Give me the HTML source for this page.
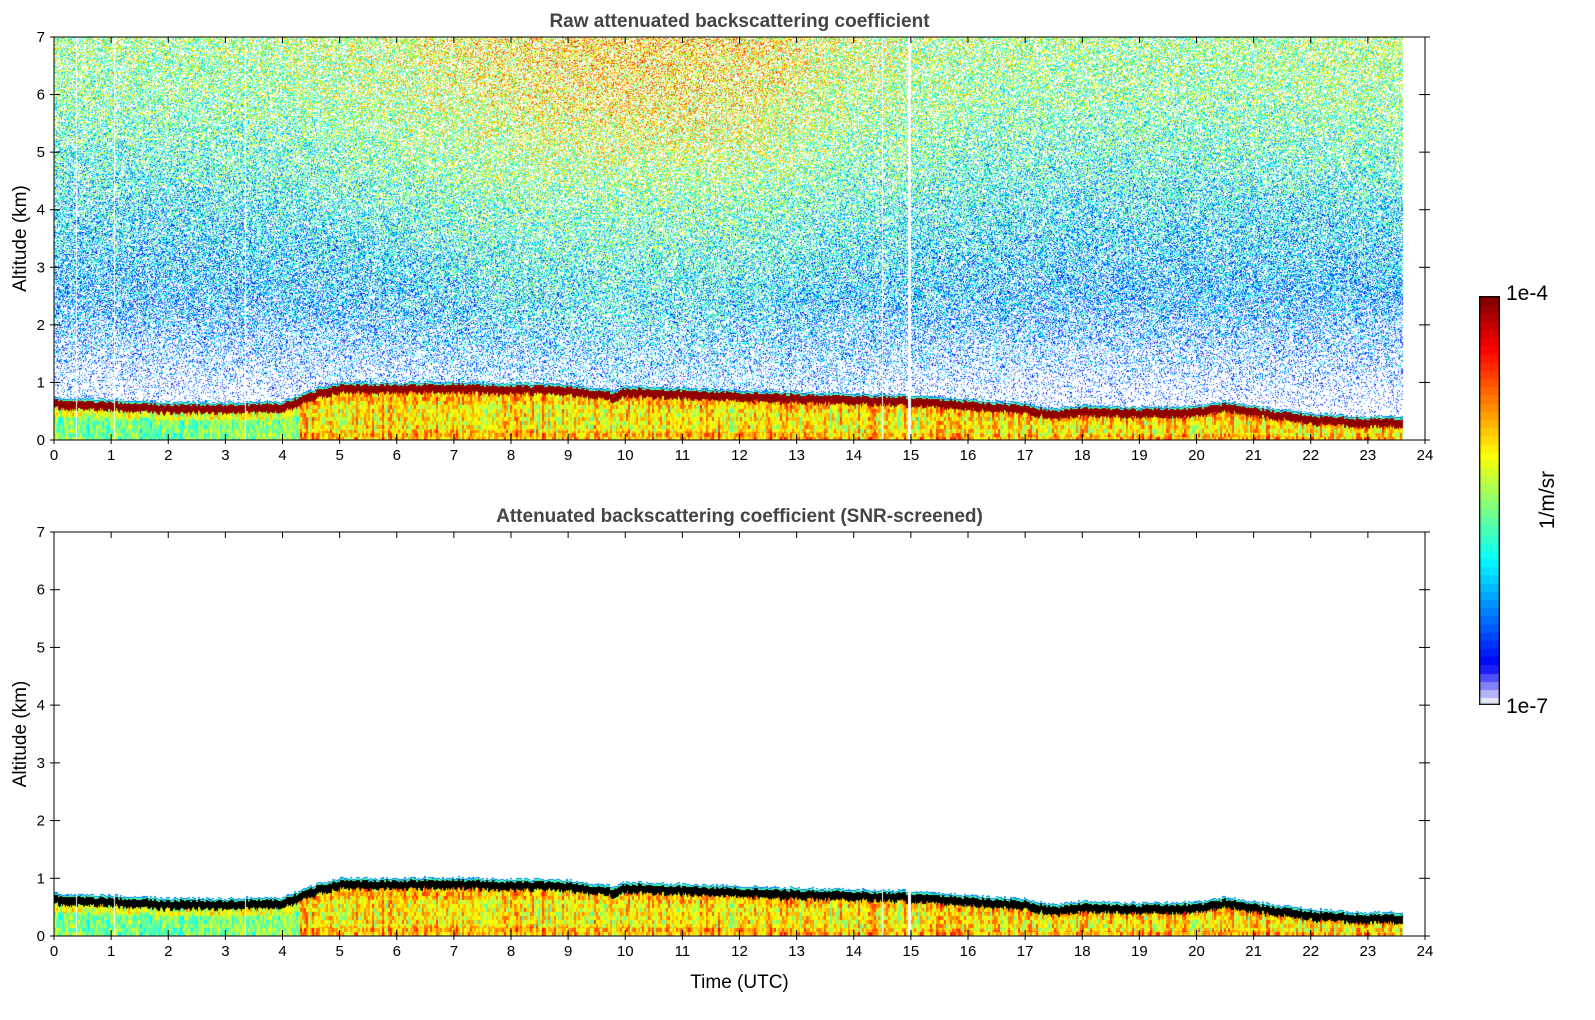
<!DOCTYPE html>
<html><head><meta charset="utf-8"><style>
body{margin:0;background:#fff;width:1595px;height:1020px;overflow:hidden;position:relative;font-family:"Liberation Sans","DejaVu Sans",sans-serif}
canvas{position:absolute}
svg{position:absolute;left:0;top:0}
</style></head><body>
<canvas id="c1" width="1371" height="403" style="left:54px;top:37px"></canvas>
<canvas id="c2" width="1371" height="404" style="left:54px;top:532px"></canvas>
<canvas id="cb" width="21" height="409" style="left:1479px;top:296px"></canvas>
<svg id="ax" width="1595" height="1020"></svg>
<script>
// ---- data ----
const blHours = [0,1,2,3,4,4.5,5,6,7,8,9,9.6,9.8,10,11,12,13,14,15,16,17,17.5,18,19,20,20.5,21,22,23,23.6];
const blTop   = [0.68,0.65,0.6,0.6,0.62,0.82,0.95,0.95,0.96,0.93,0.92,0.84,0.8,0.89,0.85,0.81,0.78,0.75,0.73,0.65,0.59,0.49,0.55,0.52,0.54,0.62,0.54,0.41,0.35,0.36];
const gridHours = [0,2,4,6,8,10,12,14,16,18,20,22,24];
const gridAlt = [1,2,3,4,5,6,7];
const logBeta = [
 [-6.6,-6.6,-6.6,-6.5,-6.4,-6.3,-6.35,-6.5,-6.6,-6.6,-6.6,-6.6,-6.6],
 [-6.35,-6.35,-6.35,-6.25,-6.1,-6.0,-6.1,-6.25,-6.3,-6.35,-6.35,-6.35,-6.35],
 [-6.15,-6.15,-6.15,-6.05,-5.9,-5.85,-5.9,-6.05,-6.1,-6.15,-6.15,-6.15,-6.1],
 [-6.0,-6.0,-5.95,-5.85,-5.7,-5.65,-5.7,-5.85,-5.95,-6.0,-6.0,-6.0,-5.95],
 [-5.8,-5.8,-5.75,-5.6,-5.4,-5.3,-5.35,-5.6,-5.75,-5.8,-5.8,-5.75,-5.7],
 [-5.6,-5.6,-5.55,-5.4,-5.2,-5.1,-5.15,-5.4,-5.55,-5.6,-5.6,-5.55,-5.5],
 [-5.5,-5.5,-5.45,-5.3,-5.1,-5.0,-5.05,-5.3,-5.45,-5.5,-5.5,-5.45,-5.45]];
const gapHours = [0.38,1.05,3.35,14.5,14.95];
const gapWidth = [1,1,1,1,3];
const dataEnd = 23.6;
const xTicks = [...Array(25).keys()];
const yTicks = [0,1,2,3,4,5,6,7];
// ---- helpers ----
const W=1371;
function interp(xs,ys,x){if(x<=xs[0])return ys[0];for(let i=1;i<xs.length;i++){if(x<=xs[i]){const t=(x-xs[i-1])/(xs[i]-xs[i-1]);return ys[i-1]+t*(ys[i]-ys[i-1]);}}return ys[ys.length-1];}
function cl(v){return Math.max(0,Math.min(1,v));}
function jet(v){
 let t=(v+7)/3; if(t<0.0)return null;
 t=Math.min(1,t);
 if(t<0.1){const k=[[230,230,250],[180,180,250],[130,130,250],[80,80,250],[30,30,250]][Math.floor(t/0.02)];return k;}
 const u=0.125+(t-0.1)/0.9*0.875;
 return [cl(1.5-Math.abs(4*u-3))*255,cl(1.5-Math.abs(4*u-2))*255,cl(1.5-Math.abs(4*u-1))*255];
}
function hash(a,b){let h=(a*374761393+b*668265263)|0;h=(h^(h>>>13))*1274126177|0;return ((h^(h>>>16))>>>0)/4294967296;}
function upper(h,alt){
 if(alt<1){const v=interp(gridHours,logBeta[0],h);return v-(1-alt)*0.5;}
 const col=gridAlt.map((a,i)=>interp(gridHours,logBeta[i],h));
 return interp(gridAlt,col,alt);
}
function isGap(x){for(let i=0;i<gapHours.length;i++){const gx=Math.round(gapHours[i]/24*W);if(x>=gx&&x<gx+gapWidth[i])return true;}return false;}
function draw(id,raw){
 const c=document.getElementById(id),ctx=c.getContext('2d'),H=c.height;
 const img=ctx.createImageData(W,H),d=img.data;
 for(let x=0;x<W;x++){
  const hr=x/W*24; if(hr>dataEnd)continue;
  if(isGap(x))continue;
  const top=interp(blHours,blTop,hr)+(hash(x>>1,11)-0.5)*0.05;
  const colN=hash(x>>1,7)-0.5;
  const band=0.12+hash(x,13)*0.05;
  for(let y=0;y<H;y++){
   const alt=(H-1-y)/H*7; let v; let black=false;
   const r=hash(x,y*3+1);
   if(alt<top-band){
    const fr=alt/(top-band);
    if(hr<4.3) v=-5.55+(hash(x>>1,y>>2)-0.5)*0.6+colN*0.35+(fr>0.75?0.3:0);
    else v=-5.12+(hash(x>>1,y>>2)-0.5)*0.7+colN*0.5+(fr<0.2?0.2:0)+(fr>0.8?0.15:0);
   } else if(alt<top){ if(raw) v=-4.05+(r-0.5)*0.1; else black=true; }
   else if(alt<top+0.025){ v=-5.7; }
   else if(alt<top+0.045){ v=-6.3; }
   else {
    if(!raw) continue;
    v=upper(hr,alt)+(r-0.5)*1.3;
    let pw=0.42; if(alt<2.5) pw+= (2.5-alt)/2.5*0.5;
    if(hash(y,x*5+3)<pw)continue;
   }
   const i=(y*W+x)*4;
   if(black){d[i]=0;d[i+1]=0;d[i+2]=0;d[i+3]=255;continue;}
   const k=jet(v); if(!k)continue;
   d[i]=k[0];d[i+1]=k[1];d[i+2]=k[2];d[i+3]=255;
  }
 }
 ctx.putImageData(img,0,0);
}
draw('c1',true);draw('c2',false);
(function(){const c=document.getElementById('cb'),ctx=c.getContext('2d');const n=50;
 for(let i=0;i<n;i++){const v=-7+(i+0.5)/n*3;const k=jet(v);ctx.fillStyle=`rgb(${k[0]|0},${k[1]|0},${k[2]|0})`;
 const y0=409-(i+1)*409/n;ctx.fillRect(0,Math.floor(y0),21,Math.ceil(409/n)+1);}
 ctx.strokeStyle='#000';ctx.lineWidth=1.5;ctx.strokeRect(0.5,0.5,20,408);})();
const svg=document.getElementById('ax');const NS='http://www.w3.org/2000/svg';
function el(t,a,txt){const e=document.createElementNS(NS,t);for(const k in a)e.setAttribute(k,a[k]);if(txt!==undefined)e.textContent=txt;svg.appendChild(e);return e;}
function panel(top,bot,title,name,xlabel){
 const L=54,R=1425;
 const f=el('rect',{x:L,y:top,width:R-L,height:bot-top,fill:'none',stroke:'#000','stroke-width':1});
 
 const tt=el('text',{x:(L+R)/2,y:top-10,'text-anchor':'middle','font-size':19,'font-weight':'bold',fill:'#444'},title);
 
 xTicks.forEach(t=>{const x=L+t/24*(R-L);
  el('line',{x1:x,x2:x,y1:bot,y2:bot-6,stroke:'#000'});el('line',{x1:x,x2:x,y1:top,y2:top+6,stroke:'#000'});
  el('line',{x1:x,x2:x,y1:bot,y2:bot+4,stroke:'#000'});
  const l=el('text',{x:x,y:bot+20,'text-anchor':'middle','font-size':15},String(t));
  });
 yTicks.forEach(t=>{const y=bot-t/7*(bot-top);
  el('line',{x1:L,x2:L+6,y1:y,y2:y,stroke:'#000'});el('line',{x1:R,x2:R-6,y1:y,y2:y,stroke:'#000'});
  el('line',{x1:R,x2:R+5,y1:y,y2:y,stroke:'#000'});el('line',{x1:L-4,x2:L,y1:y,y2:y,stroke:'#000'});
  const l=el('text',{x:L-9,y:y+5,'text-anchor':'end','font-size':15},String(t));
  });
 const yl=el('text',{x:0,y:0,'text-anchor':'middle','font-size':19,transform:`translate(26,${(top+bot)/2}) rotate(-90)`},'Altitude (km)');
 
 if(xlabel){const xl=el('text',{x:(L+R)/2,y:bot+52,'text-anchor':'middle','font-size':19},xlabel);
  }
}
panel(37,440,'Raw attenuated backscattering coefficient','raw-panel',null);
panel(532,936,'Attenuated backscattering coefficient (SNR-screened)','screened-panel','Time (UTC)');
let a=el('text',{x:1506,y:300,'font-size':21},'1e-4');
a=el('text',{x:1506,y:713,'font-size':21},'1e-7');
a=el('text',{x:0,y:0,'font-size':21,'text-anchor':'middle',transform:'translate(1554,500) rotate(-90)'},'1/m/sr');
</script>
</body></html>
